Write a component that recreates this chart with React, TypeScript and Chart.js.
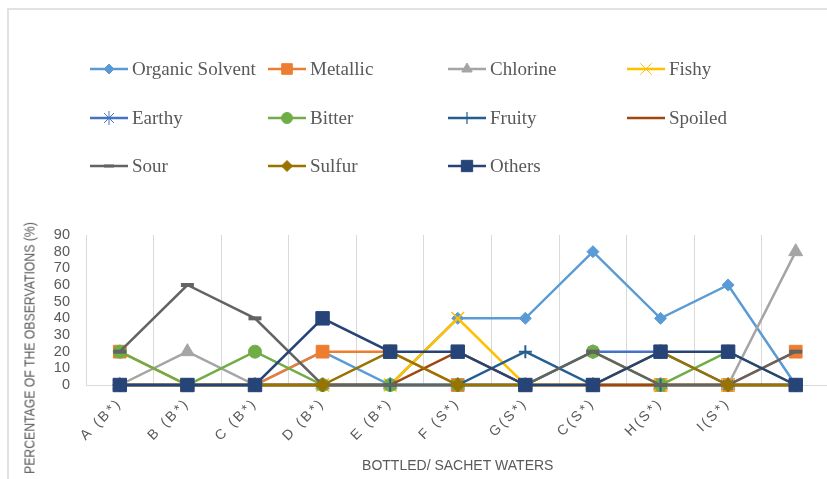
import React, { useEffect, useRef, useMemo } from 'react';
import { Chart, registerables } from 'chart.js';
import { drawPoint } from 'chart.js/helpers';

Chart.register(...registerables);

// ---- data ----
const categories = ['A (B*)', 'B (B*)', 'C (B*)', 'D (B*)', 'E (B*)', 'F (S*)', 'G(S*)', 'C(S*)', 'H(S*)', 'I(S*)', ''];
const organicSolvent = [0, 0, 0, 20, 0, 40, 40, 80, 40, 60, 0];
const metallic = [20, 0, 0, 20, 20, 0, 0, 0, 0, 0, 20];
const chlorine = [0, 20, 0, 0, 0, 0, 0, 0, 0, 0, 80];
const fishy = [0, 0, 0, 0, 0, 40, 0, 0, 0, 0, 0];
const earthy = [0, 0, 0, 0, 0, 0, 0, 20, 20, 0, 0];
const bitter = [20, 0, 20, 0, 0, 0, 0, 20, 0, 20, 0];
const fruity = [0, 0, 0, 0, 0, 0, 20, 0, 0, 0, 0];
const spoiled = [0, 0, 0, 0, 0, 20, 0, 0, 0, 0, 0];
const sour = [20, 60, 40, 0, 0, 0, 0, 20, 0, 0, 20];
const sulfur = [0, 0, 0, 0, 20, 0, 0, 0, 20, 0, 0];
const others = [0, 0, 0, 40, 20, 20, 0, 0, 20, 20, 0];

const yMin = 0;
const yMax = 90;
const yStep = 10;

const xTitle = 'BOTTLED/ SACHET WATERS';
const yTitle = 'PERCENTAGE OF THE OBSERVATIONS (%)';

// ---- styles ----
type S = { name: string; data: number[]; color: string; style: any; r: number; bw: number; lr: number; lbw: number };
const SERIES: S[] = [
  { name: 'Organic Solvent', data: organicSolvent, color: '#5B9BD5', style: 'rectRot', r: 6, bw: 1, lr: 5, lbw: 1 },
  { name: 'Metallic', data: metallic, color: '#ED7D31', style: 'rect', r: 9, bw: 1, lr: 7.5, lbw: 1 },
  { name: 'Chlorine', data: chlorine, color: '#A5A5A5', style: 'triangle', r: 8, bw: 1, lr: 6, lbw: 1 },
  { name: 'Fishy', data: fishy, color: '#FFC000', style: 'crossRot', r: 9, bw: 1.5, lr: 8, lbw: 1 },
  { name: 'Earthy', data: earthy, color: '#4472C4', style: 'star', r: 7, bw: 1.5, lr: 7, lbw: 1 },
  { name: 'Bitter', data: bitter, color: '#70AD47', style: 'circle', r: 6.5, bw: 1, lr: 5.5, lbw: 1 },
  { name: 'Fruity', data: fruity, color: '#255E91', style: 'cross', r: 6.5, bw: 2, lr: 6, lbw: 1.2 },
  { name: 'Spoiled', data: spoiled, color: '#9E480E', style: 'line', r: 6, bw: 2.5, lr: 4, lbw: 2 },
  { name: 'Sour', data: sour, color: '#636363', style: 'line', r: 6.5, bw: 4, lr: 5, lbw: 3 },
  { name: 'Sulfur', data: sulfur, color: '#997300', style: 'rectRot', r: 7, bw: 1, lr: 5.5, lbw: 1 },
  { name: 'Others', data: others, color: '#264478', style: 'rect', r: 9.5, bw: 1, lr: 8, lbw: 1 },
];

const legendColX = [90, 268, 448, 627];
const legendRowY = [69, 118, 166];

const GRAY = '#595959';
const GRID = '#d9d9d9';

export default function App() {
  const canvasRef = useRef<HTMLCanvasElement>(null);
  const legendRefs = useRef<(HTMLCanvasElement | null)[]>([]);

  const yScale = useMemo(() => {
    const c = document.createElement('canvas').getContext('2d')!;
    c.font = '15px "Liberation Sans"';
    const w = c.measureText(yTitle).width;
    return 252 / w;
  }, []);

  useEffect(() => {
    const chart = new Chart(canvasRef.current!, {
      type: 'line',
      data: {
        labels: categories,
        datasets: SERIES.map((s, i) => ({
          label: s.name,
          data: s.data,
          borderColor: s.color,
          backgroundColor: s.color,
          borderWidth: 2.5,
          tension: 0,
          pointStyle: s.style,
          pointRadius: s.r,
          pointHoverRadius: s.r,
          pointBackgroundColor: s.color,
          pointBorderColor: s.color,
          pointBorderWidth: s.bw,
          order: SERIES.length - i,
          clip: false as any,
        })),
      },
      options: {
        responsive: false,
        animation: false,
        devicePixelRatio: 1,
        layout: { padding: { top: 235, right: 9, left: 0, bottom: 0 } },
        plugins: { legend: { display: false }, tooltip: { enabled: false } },
        scales: {
          x: {
            type: 'category',
            offset: true,
            grid: { offset: true, color: GRID, drawTicks: false, lineWidth: 1 },
            border: { color: GRID, width: 1 },
            ticks: {
              autoSkip: false,
              maxRotation: 45,
              minRotation: 45,
              color: GRAY,
              padding: 10,
              font: { family: '"Liberation Sans", sans-serif', size: 14 },
            },
            title: {
              display: true,
              text: xTitle,
              color: GRAY,
              font: { family: '"Liberation Sans", sans-serif', size: 14 },
              padding: { top: 4, bottom: 4 },
            },
            afterFit: (s: any) => {
              s.height = 94;
              if (!s.__spaced) {
                s.__spaced = true;
                const orig = s.drawLabels.bind(s);
                s.drawLabels = (area: any) => {
                  const ctx: any = s.ctx;
                  const prev = ctx.letterSpacing;
                  ctx.letterSpacing = '2.5px';
                  orig(area);
                  ctx.letterSpacing = prev || '0px';
                };
              }
            },
          },
          y: {
            min: yMin,
            max: yMax,
            grid: { display: false, drawTicks: false },
            border: { display: true, color: GRID, width: 1 },
            ticks: {
              stepSize: yStep,
              autoSkip: false,
              color: GRAY,
              padding: 16,
              font: { family: '"Liberation Sans", sans-serif', size: 14.5 },
            },
            afterFit: (s: any) => { s.width = 86; },
          },
        },
      },
    });

    legendRefs.current.forEach((c, i) => {
      if (!c) return;
      const s = SERIES[i];
      const ctx = c.getContext('2d')!;
      ctx.clearRect(0, 0, c.width, c.height);
      ctx.strokeStyle = s.color;
      ctx.lineWidth = 2.5;
      ctx.beginPath();
      ctx.moveTo(0, 10);
      ctx.lineTo(38, 10);
      ctx.stroke();
      ctx.fillStyle = s.color;
      ctx.strokeStyle = s.color;
      ctx.lineWidth = s.lbw;
      drawPoint(ctx, { pointStyle: s.style, rotation: 0, radius: s.lr, borderWidth: s.lbw } as any, 19, 10);
    });

    return () => chart.destroy();
  }, []);

  return (
    <div style={{ position: 'absolute', left: 0, top: 0, width: 827, height: 479, overflow: 'hidden', background: '#fff' }}>
      <div style={{ position: 'absolute', left: 7, top: 8, width: 1000, height: 1000, border: '2px solid #e2e2e2', boxSizing: 'border-box' }} />
      <canvas ref={canvasRef} width={840} height={479} style={{ position: 'absolute', left: 0, top: 0, width: 840, height: 479 }} />
      {SERIES.map((s, i) => (
        <div
          key={s.name}
          style={{
            position: 'absolute',
            left: legendColX[i % 4],
            top: legendRowY[Math.floor(i / 4)] - 12,
            height: 24,
            display: 'flex',
            alignItems: 'center',
            whiteSpace: 'nowrap',
          }}
        >
          <canvas ref={(el) => { legendRefs.current[i] = el; }} width={38} height={20} style={{ width: 38, height: 20 }} />
          <span style={{ marginLeft: 4, fontFamily: '"Liberation Serif", serif', fontSize: 19, color: GRAY, lineHeight: '24px' }}>{s.name}</span>
        </div>
      ))}
      <div
        style={{
          position: 'absolute',
          left: 29,
          top: 348,
          transform: `translate(-50%, -50%) rotate(-90deg) scaleX(${yScale})`,
          whiteSpace: 'nowrap',
          fontFamily: '"Liberation Sans", sans-serif',
          fontSize: 15,
          color: GRAY,
        }}
      >
        {yTitle}
      </div>
    </div>
  );
}
